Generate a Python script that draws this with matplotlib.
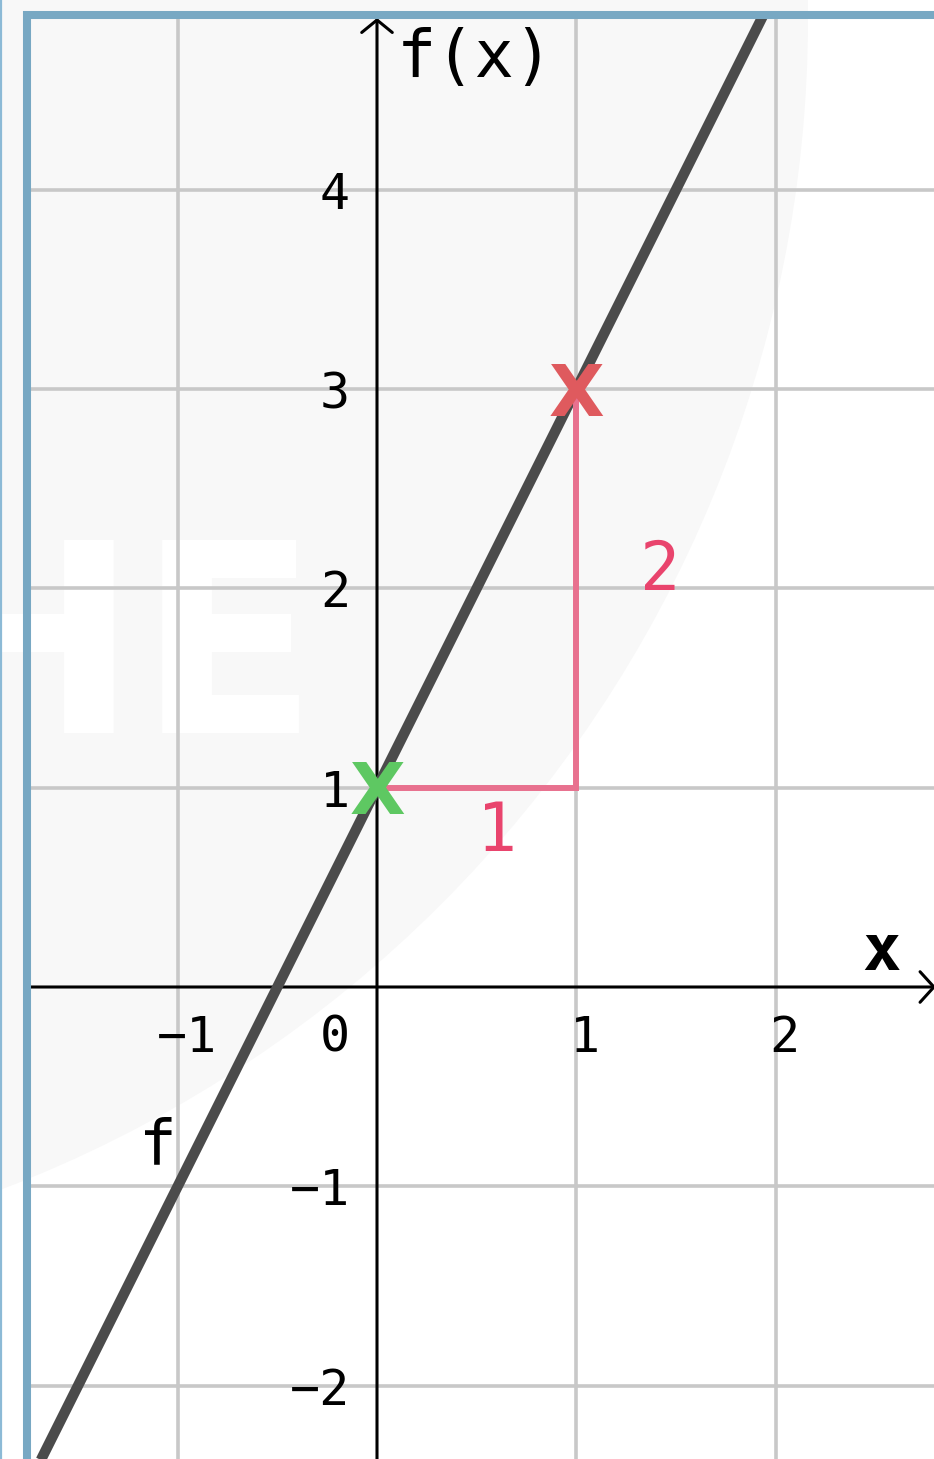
import numpy as np
import matplotlib
matplotlib.use('Agg')
import matplotlib.pyplot as plt
from matplotlib.patches import Circle, Rectangle
from matplotlib.lines import Line2D
from matplotlib import transforms

# --- values ---
x_ticks = [-1, 0, 1, 2]
x_tick_labels = ['−1', '0', '1', '2']
y_ticks = [-2, -1, 1, 2, 3, 4]
y_tick_labels = ['−2', '−1', '1', '2', '3', '4']
grid_x = [-1, 1, 2]
grid_y = [-2, -1, 1, 2, 3, 4]

# f(x) = 2x + 1, two points far outside the view
f_x = [-2.5, 3.0]
f_y = [-4.0, 7.0]

# slope triangle
run_x = [0, 1, 1]
run_y = [1, 1, 3]
run_text = '1'
rise_text = '2'
start_pt = (0, 1)
end_pt = (1, 3)

W, H = 934, 1459
PX = 199.3            # pixels per unit
OX, OY = 377, 987     # origin in pixels

fig = plt.figure(figsize=(W / 100, H / 100), dpi=100)
ax = fig.add_axes([0, 0, 1, 1])
ax.set_xlim(-OX / PX, (W - OX) / PX)
ax.set_ylim(-(H - OY) / PX, OY / PX)
ax.axis('off')


def px2d(px, py):
    return (px - OX) / PX, (OY - py) / PX


def off(dx, dy):
    return transforms.offset_copy(ax.transData, fig=fig, x=dx, y=dy, units='dots')


# light background disc
cx, cy = px2d(-446, 18)
ax.add_patch(Circle((cx, cy), 1254 / PX, color='#f8f8f8', zorder=0, lw=0))

# watermark (white letters, the H runs off the left edge)
ax.text(138 / W, 1 - 733 / H, 'H', transform=fig.transFigure, ha='right',
        va='baseline', fontsize=190, fontweight='bold', family='DejaVu Sans',
        color='white', zorder=0.5)
ax.text(138 / W, 1 - 733 / H, 'E', transform=fig.transFigure, ha='left',
        va='baseline', fontsize=190, fontweight='bold', family='DejaVu Sans',
        color='white', zorder=0.5)

# clip box (inside the blue frame)
x0, y1 = px2d(30.7, 18.7)
clip = Rectangle((x0, -10), 20, y1 + 10, transform=ax.transData)

# grid
for gx in grid_x:
    l = ax.axvline(gx, color='#c8c8c8', lw=2.6, zorder=1)
    l.set_clip_path(clip)
for gy in grid_y:
    l = ax.axhline(gy, color='#c8c8c8', lw=2.6, zorder=1)
    l.set_clip_path(clip)

# axes with arrows
xr = px2d(936, 0)[0]
yt = px2d(0, 18)[1]
ax.annotate('', xy=(xr, 0), xytext=(x0, 0), annotation_clip=False,
            arrowprops=dict(arrowstyle='->,head_length=0.5,head_width=0.55',
                            lw=2.2, color='black', shrinkA=0, shrinkB=0,
                            mutation_scale=20), zorder=2)
ax.annotate('', xy=(0, yt), xytext=(0, -3), annotation_clip=False,
            arrowprops=dict(arrowstyle='->,head_length=0.45,head_width=0.55',
                            lw=2.2, color='black', shrinkA=0, shrinkB=0,
                            mutation_scale=20), zorder=2)

# tick labels
mono = 'DejaVu Sans Mono'
for v, s in zip(x_ticks, x_tick_labels):
    if v == 0:
        ax.text(v, 0, s, transform=off(-27, -65), ha='right', va='baseline',
                fontsize=36, family=mono, zorder=3)
    else:
        ax.text(v, 0, s, transform=off(9, -65), ha='center', va='baseline',
                fontsize=36, family=mono, zorder=3)
for v, s in zip(y_ticks, y_tick_labels):
    ax.text(0, v, s, transform=off(-27, -19), ha='right', va='baseline',
            fontsize=36, family=mono, zorder=3)

# function line
ln, = ax.plot(f_x, f_y, color='#4b4b4b', lw=7.5, solid_capstyle='butt', zorder=4)
ln.set_clip_path(clip)

# slope triangle
ax.plot(run_x, run_y, color='#e8718f', lw=4.3, solid_joinstyle='miter', zorder=5)
ax.text(0.5, 1, run_text, transform=off(20, -63), ha='center', va='baseline',
        fontsize=48, family=mono, color='#e9446d', zorder=6)
ax.text(1, 2, rise_text, transform=off(84, -2), ha='center', va='baseline',
        fontsize=48, family=mono, color='#e9446d', zorder=6)

# markers
ax.text(*start_pt, 'X', transform=off(0, -26), ha='center', va='baseline',
        fontsize=52, fontweight='bold', family='DejaVu Sans', color='#5ec862', zorder=7)
ax.text(*end_pt, 'X', transform=off(0, -27), ha='center', va='baseline',
        fontsize=52, fontweight='bold', family='DejaVu Sans', color='#df5a5e', zorder=7)

# axis names
ax.text(*px2d(397, 77), 'f(x)', ha='left', va='baseline', fontsize=47,
        family=mono, zorder=6)
ax.text(*px2d(862, 970), 'x', ha='left', va='baseline', fontsize=46,
        fontweight='bold', family=mono, zorder=6)
ax.text(*px2d(139, 1163), 'f', ha='left', va='baseline', fontsize=45,
        family=mono, zorder=6)

# blue frame
fig.add_artist(Line2D([26.7 / W, 26.7 / W], [0, 1 - 10.7 / H], color='#78a8c3',
                      lw=5.8, solid_capstyle='butt'))
fig.add_artist(Line2D([22.7 / W, 1], [1 - 14.7 / H, 1 - 14.7 / H], color='#78a8c3',
                      lw=5.8, solid_capstyle='butt'))
fig.add_artist(Line2D([1 / W, 1 / W], [0, 1], color='#8cbad6', lw=1.6))

fig.savefig('out.png', dpi=100)
